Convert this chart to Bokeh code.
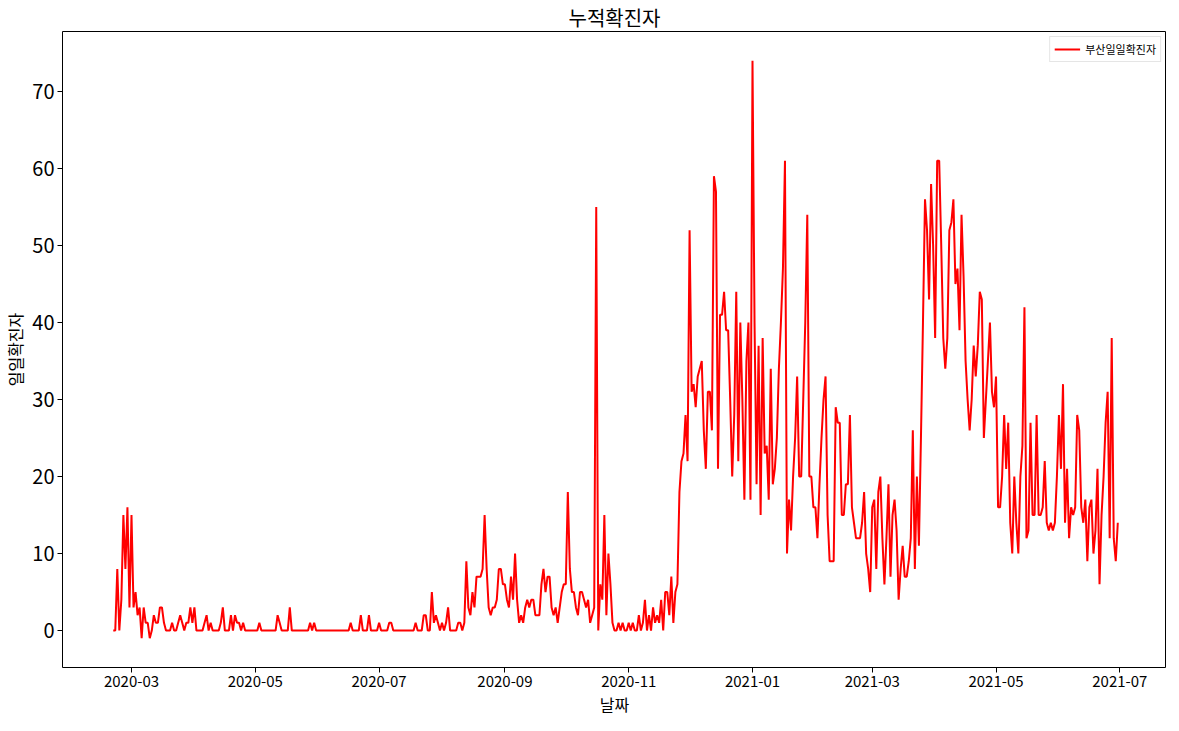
from datetime import datetime, timedelta

from bokeh.plotting import figure
from bokeh.models import Range1d, FixedTicker, DatetimeTickFormatter, Legend, LegendItem
from bokeh.embed import file_html
from bokeh.resources import INLINE

FONT = "Noto Sans CJK KR"

start = datetime(2020, 2, 21)
feb20 = [0, 0, 8, 0, 4, 15, 8, 16, 3]
mar20 = [15, 3, 5, 2, 3, -1, 3, 1, 1, -1, 0, 2, 1, 1, 3, 3, 1, 0, 0, 0, 1, 0, 0, 1, 2, 1, 0, 1, 1, 3, 1]
apr20 = [3, 0, 0, 0, 0, 1, 2, 0, 1, 0, 0, 0, 0, 1, 3, 0, 0, 0, 2, 0, 2, 1, 1, 0, 1, 0, 0, 0, 0, 0]
may20 = [0, 0, 1, 0, 0, 0, 0, 0, 0, 0, 0, 2, 1, 0, 0, 0, 0, 3, 0, 0, 0, 0, 0, 0, 0, 0, 0, 1, 0, 1, 0]
jun20 = [0] * 16 + [1, 0, 0, 0, 0, 2, 0, 0, 0, 2, 0, 0, 0, 0]
jul20 = [1, 0, 0, 0, 0, 1, 1, 0, 0, 0, 0, 0, 0, 0, 0, 0, 0, 0, 1, 0, 0, 0, 2, 2, 0, 0, 5, 1, 2, 1, 0]
aug20 = [1, 0, 1, 3, 0, 0, 0, 0, 1, 1, 0, 1, 9, 3, 2, 5, 3, 7, 7, 7, 8, 15, 8, 3, 2, 3, 3, 4, 8, 8, 6]
sep20 = [6, 4, 3, 7, 4, 10, 4, 1, 2, 1, 3, 4, 3, 4, 4, 2, 2, 2, 6, 8, 5, 7, 7, 3, 2, 3, 1, 3, 5, 6]
oct20 = [6, 18, 8, 5, 5, 3, 2, 5, 5, 4, 3, 4, 1, 2, 3, 55, 0, 6, 4, 15, 2, 10, 6, 1, 0, 0, 1, 0, 1, 0, 0]
nov20 = [1, 0, 1, 0, 0, 2, 0, 1, 4, 0, 2, 0, 3, 1, 2, 1, 4, 0, 5, 5, 2, 7, 1, 5, 6, 18, 22, 23, 28, 22]
dec20 = [52, 31, 32, 29, 33, 34, 35, 26, 21, 31, 31, 26, 59, 57, 21, 41, 41, 44, 39, 39,
         30, 20, 28, 44, 22, 40, 30, 17, 35, 40, 17]
jan21 = [74, 40, 19, 37, 15, 38, 23, 24, 17, 34, 19, 21, 25, 34, 40, 47, 61, 10, 17, 13,
         20, 25, 33, 20, 20, 30, 40, 54, 20, 20, 16]
feb21 = [16, 12, 19, 25, 30, 33, 15, 9, 9, 9, 29, 27, 27, 15, 15, 19, 19, 28, 16, 14,
         12, 12, 12, 14, 18, 10, 8, 5]
mar21 = [16, 17, 8, 18, 20, 12, 6, 12, 19, 7, 15, 17, 13, 4, 8, 11, 7, 7, 9, 12,
         26, 8, 20, 11, 25, 40, 56, 52, 43, 58, 50]
apr21 = [38, 61, 61, 50, 38, 34, 38, 52, 53, 56, 45, 47, 39, 54, 46, 35, 30, 26, 30, 37,
         33, 37, 44, 43, 25, 30, 35, 40, 31, 29]
may21 = [33, 16, 16, 20, 28, 21, 27, 14, 10, 20, 14, 10, 20, 24, 42, 12, 13, 27, 15, 15,
         28, 15, 15, 16, 22, 14, 13, 14, 13, 14, 20]
jun21 = [28, 21, 32, 14, 21, 12, 16, 15, 16, 28, 26, 16, 14, 17, 9, 16, 17, 10, 13, 21,
         6, 15, 20, 27, 31, 12, 38, 12, 9, 14]

counts = (feb20 + mar20 + apr20 + may20 + jun20 + jul20 + aug20 + sep20 + oct20 + nov20
          + dec20 + jan21 + feb21 + mar21 + apr21 + may21 + jun21)
dates = [start + timedelta(days=i) for i in range(len(counts))]

tick_dates = [datetime(2020, 3, 1), datetime(2020, 5, 1), datetime(2020, 7, 1), datetime(2020, 9, 1),
              datetime(2020, 11, 1), datetime(2021, 1, 1), datetime(2021, 3, 1), datetime(2021, 5, 1),
              datetime(2021, 7, 1)]

p = figure(width=1166, height=718, x_axis_type="datetime", output_backend="svg",
           toolbar_location=None, title="누적확진자",
           x_range=Range1d(datetime(2020, 1, 27), datetime(2021, 7, 24)),
           y_range=Range1d(-4.8, 77.8), min_border_left=0, min_border_right=0,
           min_border_top=0, min_border_bottom=0)
p.title.align = "center"
p.title.text_font = FONT
p.title.text_font_size = "20px"
p.title.text_font_style = "normal"
p.title.text_color = "black"
p.title.standoff = 0

r = p.line(dates, counts, color="red", line_width=2)

p.xgrid.visible = False
p.ygrid.visible = False
p.outline_line_color = "black"

p.xaxis.ticker = FixedTicker(ticks=[d.timestamp() * 1000 for d in tick_dates])
p.xaxis.formatter = DatetimeTickFormatter(months="%Y-%m", days="%Y-%m")
p.yaxis.ticker = FixedTicker(ticks=list(range(0, 80, 10)))
p.xaxis.axis_label = "날짜"
p.yaxis.axis_label = "일일확진자"
for ax in (p.xaxis, p.yaxis):
    ax.axis_label_text_font = FONT
    ax.axis_label_text_font_size = "16px"
    ax.axis_label_text_font_style = "normal"
    ax.axis_label_text_color = "black"
    ax.major_label_text_font = FONT
    ax.major_label_text_color = "black"
    ax.axis_line_color = None
    ax.major_tick_line_color = "black"
    ax.minor_tick_line_color = None
    ax.major_tick_out = 5
    ax.major_tick_in = 0
    ax.axis_label_standoff = 2
    ax.major_label_standoff = 3
p.xaxis.major_label_text_font_size = "15px"
p.yaxis.major_label_text_font_size = "20px"

legend = Legend(items=[LegendItem(label="부산일일확진자", renderers=[r])], location="top_right")
legend.label_text_font = FONT
legend.label_text_font_size = "11px"
legend.label_text_color = "black"
legend.glyph_width = 26
legend.glyph_height = 12
legend.label_height = 12
legend.padding = 4
legend.spacing = 0
legend.margin = 5
legend.border_line_color = "#cccccc"
p.add_layout(legend)

open("out.html", "w").write(file_html(p, INLINE))
